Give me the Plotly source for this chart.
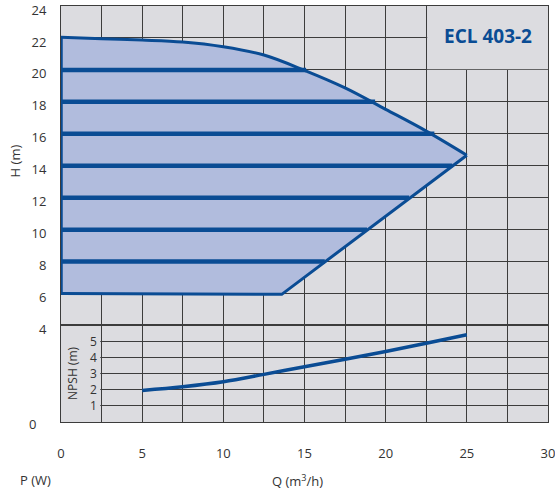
import plotly.graph_objects as go
from plotly.subplots import make_subplots

# ---- data ----
curve_q = [0, 2.5, 5, 7.5, 10, 12.5, 15, 17.5, 20, 22.5, 25]
curve_h = [22.05, 21.95, 21.87, 21.75, 21.45, 20.93, 19.97, 18.87, 17.53, 16.17, 14.66]
lower_q = [0, 13.6, 25]
lower_h = [6.0, 5.95, 14.66]

speed_h = [8, 10, 12, 14, 16, 18, 20]
speed_q_end = [16.25, 18.85, 21.45, 24.1, 23.0, 19.35, 15.1]

npsh_q = [5, 7.5, 10, 12.5, 15, 17.5, 20, 22.5, 25]
npsh_v = [1.96, 2.19, 2.5, 2.96, 3.44, 3.9, 4.38, 4.9, 5.42]

x_ticks = [0, 2.5, 5, 7.5, 10, 12.5, 15, 17.5, 20, 22.5, 25, 27.5, 30]
x_labels = ["0", "", "5", "", "10", "", "15", "", "20", "", "25", "", "30"]
h_ticks = [4, 6, 8, 10, 12, 14, 16, 18, 20, 22, 24]
npsh_ticks = [1, 2, 3, 4, 5]
title_text = "ECL 403-2"

# ---- style ----
BG = "#dcdce0"
GRID = "#3c3c3c"
BLUE = "#0a4c94"
FILL = "#b1bcdd"
TXT = "#333333"
FONT = "Open Sans"

fig = make_subplots(rows=2, cols=1, shared_xaxes=True, vertical_spacing=0,
                    row_heights=[0.768, 0.232])

# lower / right boundary of the operating area
fig.add_trace(go.Scatter(x=lower_q, y=lower_h, mode="lines",
                         line=dict(color=BLUE, width=3),
                         hoverinfo="skip", showlegend=False), row=1, col=1)
# max curve, filled down to the boundary
fig.add_trace(go.Scatter(x=curve_q, y=curve_h, mode="lines", fill="tonexty",
                         fillcolor=FILL, line=dict(color=BLUE, width=3, shape="spline", smoothing=1),
                         hoverinfo="skip", showlegend=False), row=1, col=1)
# left edge
fig.add_trace(go.Scatter(x=[curve_q[0], lower_q[0]], y=[curve_h[0], lower_h[0]], mode="lines",
                         line=dict(color=BLUE, width=3.5),
                         hoverinfo="skip", showlegend=False), row=1, col=1)

# speed lines
sx, sy = [], []
for h, qe in zip(speed_h, speed_q_end):
    sx += [0, qe, None]
    sy += [h, h, None]
fig.add_trace(go.Scatter(x=sx, y=sy, mode="lines", line=dict(color=BLUE, width=4.5),
                         hoverinfo="skip", showlegend=False), row=1, col=1)

# NPSH curve
fig.add_trace(go.Scatter(x=npsh_q, y=npsh_v, mode="lines", line=dict(color=BLUE, width=3.5, shape="spline"),
                         hoverinfo="skip", showlegend=False), row=2, col=1)

axis_common = dict(showgrid=True, gridcolor=GRID, gridwidth=1, zeroline=False,
                   showline=True, linecolor=GRID, linewidth=1, mirror=True,
                   automargin=False, ticklabeloverflow="allow")

fig.update_xaxes(range=[0, 30], tickmode="array", tickvals=x_ticks, ticktext=x_labels,
                 ticks="", **axis_common)
fig.update_xaxes(showticklabels=False, row=1, col=1)
fig.update_xaxes(showticklabels=True, tickfont=dict(family=FONT, size=13, color=TXT),
                 ticklabelstandoff=19, row=2, col=1)

fig.update_yaxes(range=[4, 24], tickmode="array", tickvals=h_ticks, ticks="",
                 tickfont=dict(family=FONT, size=13, color=TXT), ticklabelstandoff=11,
                 ticklabelshift=4, row=1, col=1, **axis_common)
fig.update_yaxes(range=[0, 6], tickmode="array", tickvals=[0] + npsh_ticks + [6],
                 ticktext=["0"] + [""] * len(npsh_ticks) + [""], ticks="",
                 tickfont=dict(family=FONT, size=13, color=TXT), ticklabelstandoff=21,
                 ticklabelshift=2, row=2, col=1, **axis_common)

# cover grid behind the title box and NPSH label area
fig.add_shape(type="rect", xref="x", yref="y", x0=22.56, x1=30, y0=20.04, y1=24,
              fillcolor=BG, line=dict(width=0), layer="between")
fig.add_shape(type="rect", xref="x2", yref="y2", x0=0, x1=2.42, y0=0.03, y1=5.95,
              fillcolor=BG, line=dict(width=0), layer="between")

annotations = [
    dict(x=26.28, y=22.15, xref="x", yref="y", text="<b>" + title_text + "</b>", showarrow=False,
         font=dict(family=FONT, size=19, color=BLUE)),
    dict(x=0.75, y=3.0, xref="x2", yref="y2", text="NPSH (m)", textangle=-90, showarrow=False,
         font=dict(family=FONT, size=12, color=TXT)),
    dict(x=-0.094, y=0.627, xref="paper", yref="paper", text="H (m)", textangle=-90, showarrow=False,
         xanchor="center", yanchor="middle", font=dict(family=FONT, size=13, color=TXT)),
    dict(x=-0.053, y=-0.14, xref="paper", yref="paper", text="P (W)", showarrow=False,
         xanchor="center", yanchor="middle", font=dict(family=FONT, size=13, color=TXT)),
    dict(x=0.486, y=-0.14, xref="paper", yref="paper", text="Q (m<sup>3</sup>/h)", showarrow=False,
         xanchor="center", yanchor="middle", font=dict(family=FONT, size=13, color=TXT)),
]
for v in npsh_ticks:
    annotations.append(dict(x=2.35, y=v, xref="x2", yref="y2", text=str(v), showarrow=False,
                            xanchor="right", font=dict(family=FONT, size=12, color=TXT)))

fig.update_layout(width=555, height=495, margin=dict(l=61, r=7, t=6, b=73),
                  paper_bgcolor="white", plot_bgcolor=BG, annotations=annotations,
                  showlegend=False)

fig.write_html("out.html", config={"displayModeBar": False},
               post_script="document.body.style.margin='0';")
